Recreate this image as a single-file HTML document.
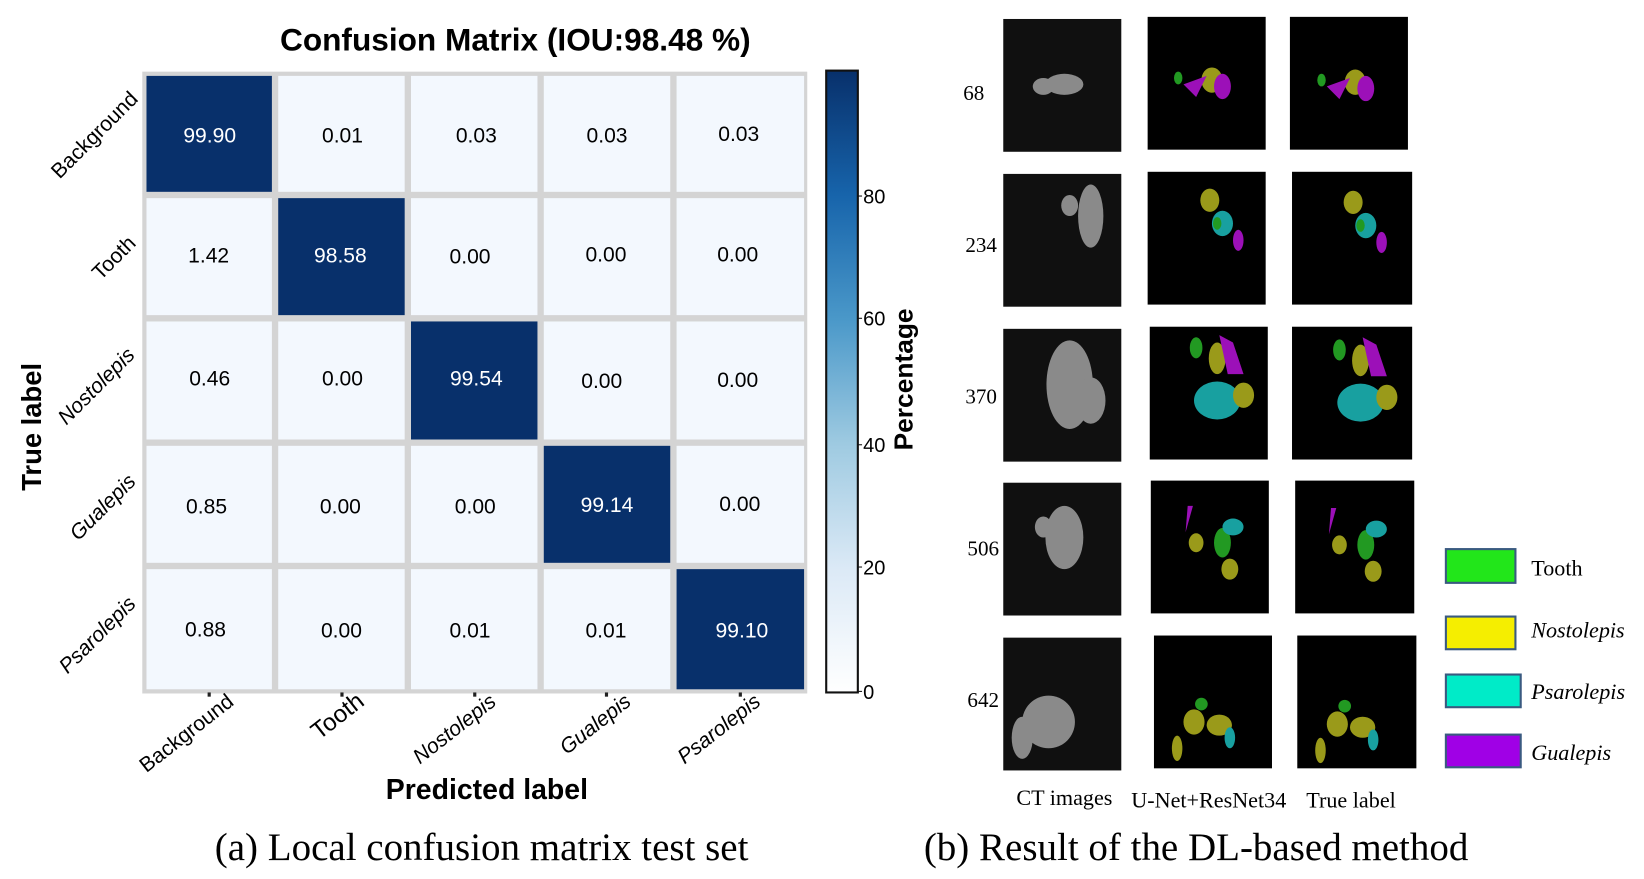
<!DOCTYPE html>
<html><head><meta charset="utf-8"><style>
html,body{margin:0;padding:0;background:#fff;}
svg{display:block;}
.s{font-family:"Liberation Sans",sans-serif;}
.r{font-family:"Liberation Serif",serif;}
</style></head><body>
<svg width="1644" height="879" viewBox="0 0 1560 834" preserveAspectRatio="none" xmlns="http://www.w3.org/2000/svg">
<defs>
<linearGradient id="cb" x1="0" y1="1" x2="0" y2="0">
<stop offset="0" stop-color="#ffffff"/>
<stop offset="0.2" stop-color="#dbe9f6"/>
<stop offset="0.4" stop-color="#9ecae1"/>
<stop offset="0.6" stop-color="#4a98c9"/>
<stop offset="0.8" stop-color="#1764ab"/>
<stop offset="1" stop-color="#08306b"/>
</linearGradient>
</defs>
<rect width="1560" height="834" fill="#fff"/>
<g transform="translate(-3,0)">
<text class="s" x="492" y="48" font-size="30" font-weight="bold" text-anchor="middle">Confusion Matrix (IOU:98.48 %)</text>
<rect x="138" y="68" width="631" height="590" fill="#d4d4d4"/>
<g class="s" font-size="20" text-anchor="middle">
<rect x="142" y="72" width="119" height="110" fill="#08306b"/><text x="202" y="135" fill="#fff">99.90</text>
<rect x="267" y="72" width="120" height="110" fill="#f3f8fe"/><text x="328" y="135">0.01</text>
<rect x="393" y="72" width="120" height="110" fill="#f3f8fe"/><text x="455" y="135">0.03</text>
<rect x="519" y="72" width="120" height="110" fill="#f3f8fe"/><text x="579" y="135">0.03</text>
<rect x="645" y="72" width="121" height="110" fill="#f3f8fe"/><text x="704" y="134">0.03</text>
<rect x="142" y="188" width="119" height="111" fill="#f3f8fe"/><text x="201" y="249">1.42</text>
<rect x="267" y="188" width="120" height="111" fill="#08306b"/><text x="326" y="249" fill="#fff">98.58</text>
<rect x="393" y="188" width="120" height="111" fill="#f3f8fe"/><text x="449" y="250">0.00</text>
<rect x="519" y="188" width="120" height="111" fill="#f3f8fe"/><text x="578" y="248">0.00</text>
<rect x="645" y="188" width="121" height="111" fill="#f3f8fe"/><text x="703" y="248">0.00</text>
<rect x="142" y="305" width="119" height="112" fill="#f3f8fe"/><text x="202" y="366">0.46</text>
<rect x="267" y="305" width="120" height="112" fill="#f3f8fe"/><text x="328" y="366">0.00</text>
<rect x="393" y="305" width="120" height="112" fill="#08306b"/><text x="455" y="366" fill="#fff">99.54</text>
<rect x="519" y="305" width="120" height="112" fill="#f3f8fe"/><text x="574" y="368">0.00</text>
<rect x="645" y="305" width="121" height="112" fill="#f3f8fe"/><text x="703" y="367">0.00</text>
<rect x="142" y="423" width="119" height="111" fill="#f3f8fe"/><text x="199" y="487">0.85</text>
<rect x="267" y="423" width="120" height="111" fill="#f3f8fe"/><text x="326" y="487">0.00</text>
<rect x="393" y="423" width="120" height="111" fill="#f3f8fe"/><text x="454" y="487">0.00</text>
<rect x="519" y="423" width="120" height="111" fill="#08306b"/><text x="579" y="486" fill="#fff">99.14</text>
<rect x="645" y="423" width="121" height="111" fill="#f3f8fe"/><text x="705" y="485">0.00</text>
<rect x="142" y="540" width="119" height="114" fill="#f3f8fe"/><text x="198" y="604">0.88</text>
<rect x="267" y="540" width="120" height="114" fill="#f3f8fe"/><text x="327" y="605">0.00</text>
<rect x="393" y="540" width="120" height="114" fill="#f3f8fe"/><text x="449" y="605">0.01</text>
<rect x="519" y="540" width="120" height="114" fill="#f3f8fe"/><text x="578" y="605">0.01</text>
<rect x="645" y="540" width="121" height="114" fill="#08306b"/><text x="707" y="605" fill="#fff">99.10</text>
</g>
<g class="s" font-size="20" text-anchor="end">
<text transform="translate(135,95) rotate(-45)">Background</text>
<text transform="translate(133,232) rotate(-45)">Tooth</text>
<text transform="translate(132,338) rotate(-45)" font-style="italic">Nostolepis</text>
<text transform="translate(133,458) rotate(-45)" font-style="italic">Gualepis</text>
<text transform="translate(133,574) rotate(-45)" font-style="italic">Psarolepis</text>
</g>
<text class="s" transform="translate(42,405) rotate(-90)" font-size="26" font-weight="bold" text-anchor="middle">True label</text>
<g fill="#222"><rect x="200" y="657" width="3" height="4"/><rect x="326" y="657" width="3" height="4"/><rect x="452" y="657" width="3" height="4"/><rect x="577" y="657" width="3" height="4"/><rect x="704" y="657" width="3" height="4"/></g>
<g class="s" font-size="20" text-anchor="end">
<text transform="translate(226,668) rotate(-38)">Background</text>
<text transform="translate(350,668) rotate(-38)" font-size="23">Tooth</text>
<text transform="translate(475,668) rotate(-38)" font-style="italic">Nostolepis</text>
<text transform="translate(603,668) rotate(-38)" font-style="italic">Gualepis</text>
<text transform="translate(726,668) rotate(-38)" font-style="italic">Psarolepis</text>
</g>
<text class="s" x="465" y="758" font-size="27" font-weight="bold" text-anchor="middle">Predicted label</text>
<rect x="787" y="67" width="30" height="590" fill="url(#cb)" stroke="#111" stroke-width="2"/>
<g class="s" font-size="19">
<line x1="817" y1="186" x2="821" y2="186" stroke="#111"/><text x="822" y="193">80</text>
<line x1="817" y1="302" x2="821" y2="302" stroke="#111"/><text x="822" y="309">60</text>
<line x1="817" y1="422" x2="821" y2="422" stroke="#111"/><text x="822" y="429">40</text>
<line x1="817" y1="538" x2="821" y2="538" stroke="#111"/><text x="822" y="545">20</text>
<line x1="817" y1="656" x2="821" y2="656" stroke="#111"/><text x="822" y="663">0</text>
</g>
<text class="s" transform="translate(869,360) rotate(-90)" font-size="25" font-weight="bold" text-anchor="middle">Percentage</text>
</g>
<text class="r" x="457" y="816" font-size="37" text-anchor="middle">(a) Local confusion matrix test set</text>
<text class="r" x="1135" y="816" font-size="37" text-anchor="middle">(b) Result of the DL-based method</text>
<g transform="translate(-5,0)">
<g class="r" font-size="20" text-anchor="middle">
<text x="929" y="95">68</text>
<text x="936" y="239">234</text>
<text x="936" y="383">370</text>
<text x="938" y="527">506</text>
<text x="938" y="671">642</text>
</g>
<g fill="#101010">
<rect x="957" y="18" width="112" height="126"/><rect x="957" y="165" width="112" height="126"/><rect x="957" y="312" width="112" height="126"/><rect x="957" y="458" width="112" height="126"/><rect x="957" y="605" width="112" height="126"/>
</g>
<g fill="#000">
<rect x="1094" y="16" width="112" height="126"/><rect x="1229" y="16" width="112" height="126"/>
<rect x="1094" y="163" width="112" height="126"/><rect x="1231" y="163" width="114" height="126"/>
<rect x="1096" y="310" width="112" height="126"/><rect x="1231" y="310" width="114" height="126"/>
<rect x="1097" y="456" width="112" height="126"/><rect x="1234" y="456" width="113" height="126"/>
<rect x="1100" y="603" width="112" height="126"/><rect x="1236" y="603" width="113" height="126"/>
</g>
<g fill="#8a8a8a">
<ellipse cx="1015" cy="80" rx="18" ry="10"/><ellipse cx="995" cy="82" rx="10" ry="8"/>
<ellipse cx="1040" cy="205" rx="12" ry="30"/><ellipse cx="1020" cy="195" rx="8" ry="10"/>
<ellipse cx="1020" cy="365" rx="22" ry="42"/><ellipse cx="1040" cy="380" rx="14" ry="22"/>
<ellipse cx="1015" cy="510" rx="18" ry="30"/><ellipse cx="995" cy="500" rx="8" ry="10"/>
<ellipse cx="1000" cy="685" rx="25" ry="25"/><ellipse cx="975" cy="700" rx="10" ry="20"/>
</g>
<g id="seg">
<ellipse cx="1155" cy="76" rx="10" ry="12" fill="#9a9a1a"/><path d="M1128 80 L1150 72 L1140 92 Z" fill="#9c10b8"/><ellipse cx="1165" cy="82" rx="8" ry="12" fill="#9c10b8"/><ellipse cx="1123" cy="74" rx="4" ry="6" fill="#229922"/>
<ellipse cx="1153" cy="190" rx="9" ry="11" fill="#9a9a1a"/><ellipse cx="1165" cy="212" rx="10" ry="12" fill="#18a0a0"/><ellipse cx="1180" cy="228" rx="5" ry="10" fill="#9c10b8"/><ellipse cx="1160" cy="212" rx="4" ry="6" fill="#229922"/>
<ellipse cx="1160" cy="340" rx="8" ry="15" fill="#9a9a1a"/><path d="M1162 318 L1175 325 L1185 355 L1170 355 Z" fill="#9c10b8"/><ellipse cx="1140" cy="330" rx="6" ry="10" fill="#229922"/><ellipse cx="1160" cy="380" rx="22" ry="18" fill="#18a0a0"/><ellipse cx="1185" cy="375" rx="10" ry="12" fill="#9a9a1a"/>
<ellipse cx="1165" cy="515" rx="8" ry="14" fill="#229922"/><ellipse cx="1175" cy="500" rx="10" ry="8" fill="#18a0a0"/><ellipse cx="1140" cy="515" rx="7" ry="9" fill="#9a9a1a"/><ellipse cx="1172" cy="540" rx="8" ry="10" fill="#9a9a1a"/><path d="M1132 480 L1137 480 L1130 505 Z" fill="#9c10b8"/>
<ellipse cx="1138" cy="685" rx="10" ry="12" fill="#9a9a1a"/><ellipse cx="1162" cy="688" rx="12" ry="10" fill="#9a9a1a"/><ellipse cx="1145" cy="668" rx="6" ry="6" fill="#229922"/><ellipse cx="1122" cy="710" rx="5" ry="12" fill="#9a9a1a"/><ellipse cx="1172" cy="700" rx="5" ry="10" fill="#18a0a0"/>
</g>
<use href="#seg" transform="translate(136,2)"/>
<g class="r" font-size="21" text-anchor="middle">
<text x="1015" y="764">CT images</text>
<text x="1152" y="766">U-Net+ResNet34</text>
<text x="1287" y="766">True label</text>
</g>
<g stroke="#3a5a80" stroke-width="2">
<rect x="1377" y="521" width="66" height="32" fill="#22e61a"/>
<rect x="1377" y="585" width="66" height="31" fill="#f5ee00"/>
<rect x="1377" y="640" width="71" height="31" fill="#00ebc8"/>
<rect x="1377" y="697" width="71" height="31" fill="#a000e6"/>
</g>
<g class="r" font-size="21">
<text x="1458" y="546">Tooth</text>
<text x="1458" y="605" font-style="italic">Nostolepis</text>
<text x="1458" y="663" font-style="italic">Psarolepis</text>
<text x="1458" y="721" font-style="italic">Gualepis</text>
</g>
</g>
</svg>
</body></html>
